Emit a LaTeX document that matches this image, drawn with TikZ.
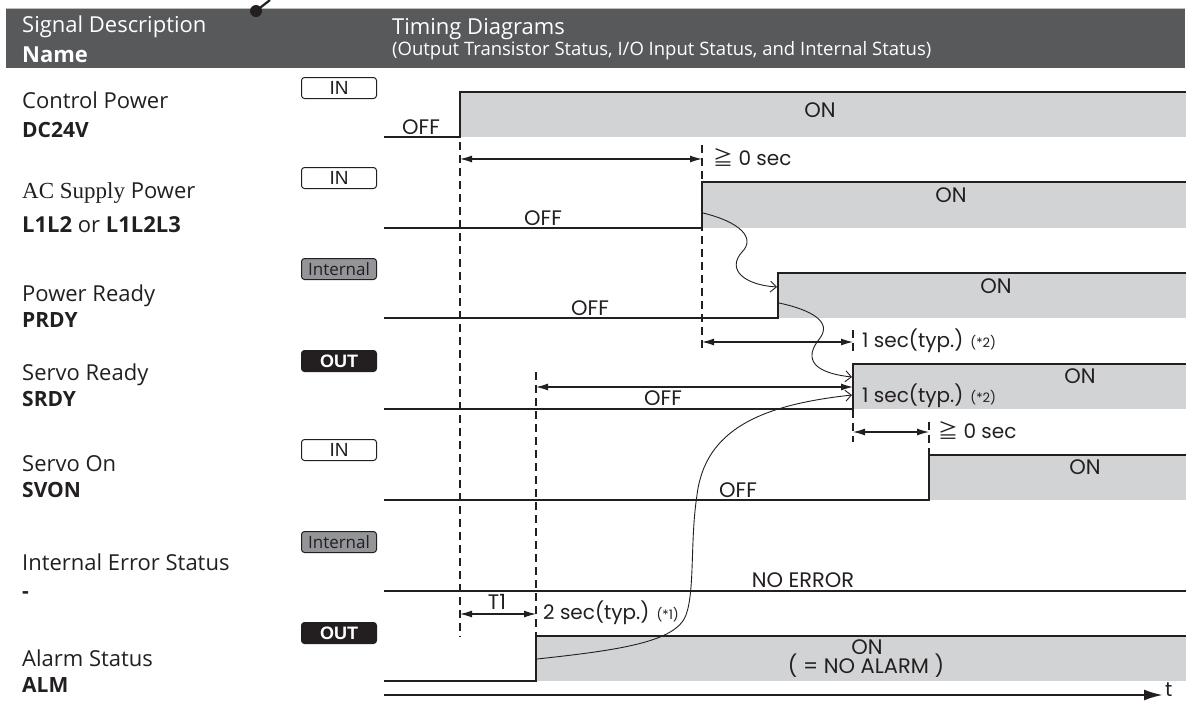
\documentclass[tikz,border=0pt]{standalone}
\usepackage{fontspec}
\setmainfont{Open Sans}
\newfontfamily\geo{Poppins}
\newfontfamily\cjk{Noto Sans CJK JP}
\newfontfamily\helv{Liberation Sans}
\newfontfamily\acserif{Liberation Serif}
\newcommand\mynotefont{\geo\fontsize{13}{13}\selectfont}
\usetikzlibrary{arrows.meta}
\definecolor{hdr}{HTML}{58595B}
\definecolor{hdrline}{HTML}{BCBEC0}
\definecolor{ink}{HTML}{231F20}
\definecolor{fillg}{HTML}{D1D3D4}
\definecolor{tagg}{HTML}{939598}
\begin{document}
\begin{tikzpicture}[x=1pt,y=-1pt,
  lbl/.style={anchor=base west, inner sep=0, text=ink, font=\fontsize{22}{24}\selectfont},
  nm/.style={anchor=base west, inner sep=0, text=ink, font=\fontsize{21}{23}\selectfont\bfseries},
  hd/.style={anchor=base west, inner sep=0, text=white},
  st/.style={anchor=base, inner sep=0, text=ink, font=\geo\fontsize{21}{23}\selectfont},
  stw/.style={anchor=base west, inner sep=0, text=ink, font=\geo\fontsize{20}{22}\selectfont},
  sig/.style={line width=2.4pt, draw=ink, line join=miter},
  band/.style={fill=fillg, draw=none},
  guide/.style={draw=ink, line width=1.2pt, dash pattern=on 8pt off 5pt},
  span/.style={draw=ink, line width=1.1pt, {Latex[length=12pt,width=7pt]}-{Latex[length=12pt,width=7pt]}},
  flow/.style={draw=ink, line width=0.9pt, -{Straight Barb[length=6pt,width=11pt]}},
  tagbox/.style={rounded corners=3pt, minimum width=75pt, minimum height=21pt, inner sep=0, line width=1pt, draw=ink},
  tagin/.style={tagbox, fill=white, text=ink, font=\helv\fontsize{19}{19}\selectfont},
  tagint/.style={tagbox, fill=tagg, text=ink, font=\fontsize{17}{17}\selectfont},
  tagout/.style={tagbox, fill=ink, text=white, font=\helv\bfseries\fontsize{18}{18}\selectfont}
]
\useasboundingbox (0,0) rectangle (1186,702);

% header
\fill[hdr] (6,8) rectangle (1185,68);
\draw[hdrline, line width=1pt] (6,8) -- (1185,8);
\draw[ink, line width=2.2pt] (256,11) -- (270,0);
\fill[ink] (256,11) circle (6);
\node[hd, font=\fontsize{22}{24}\selectfont] (hsig) at (22,32) {Signal Description};
\node[hd, font=\fontsize{22}{24}\selectfont\bfseries] (hname) at (22,62) {Name};
\node[hd, font=\fontsize{22}{24}\selectfont] (htim) at (392,34) {Timing Diagrams};
\node[hd, font=\fontsize{18.5}{20}\selectfont] (hsub) at (392,55) {(Output Transistor Status, I/O Input Status, and Internal Status)};

% left labels
\node[lbl] (l1a) at (22,108) {Control Power};
\node[nm]  (l1b) at (22,137) {DC24V};
\node[lbl] (l2a) at (22,198) {{\acserif\fontsize{23}{25}\selectfont AC Supply} Power};
\node[lbl] (l2b) at (22,232) {\textbf{L1L2} or \textbf{L1L2L3}};
\node[lbl] (l3a) at (22,301) {Power Ready};
\node[nm]  (l3b) at (22,327) {PRDY};
\node[lbl] (l4a) at (22,380) {Servo Ready};
\node[nm]  (l4b) at (22,406) {SRDY};
\node[lbl] (l5a) at (22,471) {Servo On};
\node[nm]  (l5b) at (22,497) {SVON};
\node[lbl] (l6a) at (22,570) {Internal Error Status};
\node[nm]  (l6b) at (22,598) {-};
\node[lbl] (l7a) at (22,666) {Alarm Status};
\node[nm]  (l7b) at (22,692) {ALM};

% tags
\node[tagin]  (t1) at (339,88)  {IN};
\node[tagin]  (t2) at (339,178) {IN};
\node[tagint] (t3) at (339,269) {Internal};
\node[tagout] (t4) at (339,361) {OUT};
\node[tagin]  (t5) at (339,450) {IN};
\node[tagint] (t6) at (339,542) {Internal};
\node[tagout] (t7) at (339,633) {OUT};

% high bands
\fill[band] (460,92) rectangle (1186,137);
\fill[band] (702,182) rectangle (1186,228);
\fill[band] (778,273) rectangle (1186,318);
\fill[band] (853,364) rectangle (1186,409);
\fill[band] (929,455) rectangle (1186,500);
\fill[band] (536,636) rectangle (1186,681);

% guides
\draw[guide] (460,142) -- (460,637);
\draw[guide] (702,145) -- (702,352);
\draw[guide] (536,372) -- (536,637);
\draw[guide] (853,330) -- (853,352);
\draw[guide] (853,410) -- (853,442);
\draw[guide] (929,422) -- (929,455);

% signals
\coordinate (cpRise) at (460,92);
\coordinate (acRise) at (702,182);
\coordinate (prRise) at (778,273);
\coordinate (srRise) at (853,364);
\coordinate (svRise) at (929,455);
\coordinate (alRise) at (536,636);
\draw[sig] (384,137) -- (460,137) -- (cpRise) -- (1186,92);
\draw[sig] (384,228) -- (702,228) -- (acRise) -- (1186,182);
\draw[sig] (384,318) -- (778,318) -- (prRise) -- (1186,273);
\draw[sig] (384,409) -- (853,409) -- (srRise) -- (1186,364);
\draw[sig] (384,500) -- (929,500) -- (svRise) -- (1186,455);
\draw[sig] (384,591) -- (1186,591);
\draw[sig] (384,681) -- (536,681) -- (alRise) -- (1186,636);
\coordinate (ax0) at (384,695);
\coordinate (ax1) at (1163,695);
\draw[line width=2.4pt, draw=ink, -{Latex[length=19pt,width=11pt]}] (ax0) -- (ax1);
\node[stw] (tlab) at (1165,696) {t};

% state labels
\node[st] (s1off) at (421,134) {OFF};
\node[st] (s1on)  at (820,117) {ON};
\node[st] (s2off) at (543,225) {OFF};
\node[st] (s2on)  at (951,202) {ON};
\node[st] (s3off) at (590,315) {OFF};
\node[st] (s3on)  at (996,293) {ON};
\node[st] (s4off) at (663,405) {OFF};
\node[st] (s4on)  at (1080,383) {ON};
\node[st] (s5off) at (738,497) {OFF};
\node[st] (s5on)  at (1085,474) {ON};
\node[st] (s6)    at (803,587) {NO ERROR};
\node[st] (s7on)  at (867,654) {ON};
\node[st] (s7sub) at (866,673) {( = NO ALARM )};

% spans
\coordinate (a1l) at (460,159); \coordinate (a1r) at (702,159);
\draw[span] (a1l) -- (a1r);
\node[stw] (a1t) at (713,165) {{\cjk ≧} 0 sec};
\coordinate (a2l) at (702,342); \coordinate (a2r) at (853,342);
\draw[span] (a2l) -- (a2r);
\node[stw] (a2t) at (862,347) {1 sec(typ.) {\mynotefont (*2)}};
\coordinate (a3l) at (536,387); \coordinate (a3r) at (853,387);
\draw[span] (a3l) -- (a3r);
\node[stw] (a3t) at (862,402) {1 sec(typ.) {\mynotefont (*2)}};
\coordinate (a4l) at (853,432); \coordinate (a4r) at (929,432);
\draw[span] (a4l) -- (a4r);
\node[stw] (a4t) at (938,438) {{\cjk ≧} 0 sec};
\coordinate (a5l) at (460,614); \coordinate (a5r) at (536,614);
\draw[span] (a5l) -- (a5r);
\node[st] (a5t) at (497,609) {T1};
\node[stw] (a5s) at (543,619) {2 sec(typ.) {\mynotefont (*1)}};

% cause-effect curves
\coordinate (c1s) at (703,213); \coordinate (c1e) at (777,287);
\coordinate (c2s) at (779,303); \coordinate (c2e) at (852,377);
\coordinate (c3s) at (537,659); \coordinate (c3e) at (852,395);
\draw[flow] (c1s) .. controls (740,222) and (756,238) .. (742,252)
   .. controls (726,270) and (745,285) .. (c1e);
\draw[flow] (c2s) .. controls (812,310) and (832,322) .. (820,338)
   .. controls (802,360) and (815,373) .. (c2e);
\draw[flow] (c3s) .. controls (620,650) and (676,642) .. (686,615)
   .. controls (695,590) and (690,540) .. (697,495)
   .. controls (705,430) and (760,405) .. (c3e);
\end{tikzpicture}
\end{document}
